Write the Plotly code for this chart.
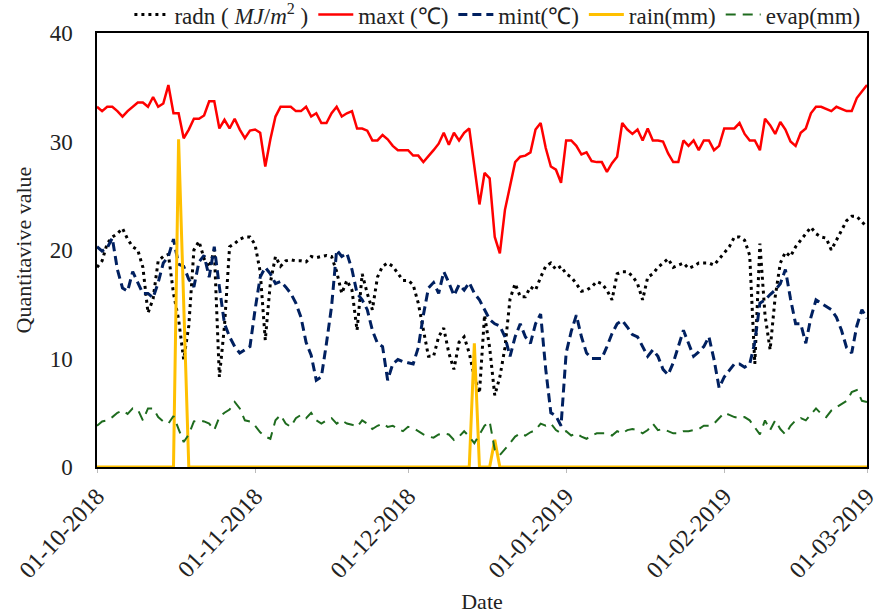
import pandas as pd
import plotly.graph_objects as go

dates = pd.date_range("2018-10-01", periods=152, freq="D")

radn = [18.4, 19.0, 20.6, 21.2, 21.5, 22.0, 21.0, 20.3, 20.0, 18.4,
        14.2, 15.5, 19.0, 19.4, 19.6, 16.0, 13.6, 9.9, 13.0, 20.0,
        20.8, 19.2, 18.4, 20.0, 8.3, 13.0, 20.3, 20.6, 21.0, 21.2,
        21.2, 20.5, 18.0, 11.7, 17.0, 19.4, 18.5, 19.0, 19.1, 19.0,
        19.0, 18.9, 19.4, 19.3, 19.4, 19.5, 19.4, 18.0, 16.0, 17.2,
        16.3, 12.6, 17.8, 16.0, 14.5, 17.5, 18.5, 18.8, 18.5, 17.8,
        17.2, 17.2, 16.8, 15.1, 12.5, 10.2, 10.2, 12.0, 12.8, 10.5,
        9.0, 11.5, 12.0, 10.5, 8.3, 6.8, 14.0, 11.0, 6.6, 8.3,
        11.0, 15.5, 16.9, 15.7, 15.7, 16.6, 16.3, 17.5, 18.5, 18.8,
        18.2, 18.5, 17.8, 17.5, 16.9, 16.2, 16.3, 16.6, 17.1, 16.9,
        16.3, 15.4, 17.8, 18.0, 18.0, 17.6, 16.9, 15.4, 17.5, 17.8,
        18.4, 18.8, 19.2, 18.4, 18.6, 18.8, 18.3, 18.5, 18.8, 18.8,
        18.8, 18.6, 19.2, 19.8, 20.3, 21.2, 21.2, 20.9, 19.5, 9.5,
        20.6, 14.0, 10.8, 15.7, 18.8, 19.8, 19.4, 20.3, 20.9, 21.5,
        22.1, 21.5, 21.2, 21.1, 20.0, 20.9, 21.8, 22.7, 23.1, 23.1,
        22.6, 22.1]

maxt = [33.2, 32.8, 33.2, 33.2, 32.8, 32.3, 32.8, 33.2, 33.6, 33.6,
        33.2, 34.1, 33.2, 33.5, 35.2, 32.6, 32.6, 30.3, 31.1, 32.1,
        32.1, 32.4, 33.7, 33.7, 31.2, 32.0, 31.2, 32.1, 31.1, 30.3,
        31.0, 31.1, 30.8, 27.7, 30.2, 32.3, 33.2, 33.2, 33.2, 32.8,
        32.8, 33.2, 32.3, 32.6, 31.7, 31.7, 32.6, 33.2, 32.3, 32.6,
        32.8, 31.2, 31.2, 31.0, 30.1, 30.1, 30.6, 30.2, 29.6, 29.2,
        29.2, 29.2, 28.7, 28.7, 28.1, 28.6, 29.2, 29.8, 30.8, 29.7,
        30.8, 30.1, 30.8, 31.2, 27.7, 24.2, 27.1, 26.6, 21.2, 19.7,
        23.7, 26.0, 28.1, 28.6, 28.7, 29.0, 31.1, 31.7, 29.4, 27.7,
        27.4, 26.2, 30.1, 30.1, 29.6, 28.8, 29.0, 28.2, 28.1, 28.1,
        27.2, 28.0, 28.6, 31.7, 31.1, 30.7, 31.1, 30.1, 31.2, 30.1,
        30.1, 30.0, 28.9, 28.1, 28.1, 30.1, 29.6, 30.1, 29.2, 30.1,
        30.1, 29.2, 29.6, 31.2, 31.2, 31.2, 31.7, 30.7, 30.1, 30.1,
        29.2, 32.1, 31.5, 30.7, 31.8, 31.1, 30.0, 29.6, 30.8, 31.2,
        32.6, 33.2, 33.2, 33.0, 32.8, 33.2, 33.0, 32.8, 32.8, 34.0,
        34.6, 35.2]

mint = [20.3, 19.9, 20.2, 21.1, 18.2, 16.5, 16.2, 18.0, 17.0, 16.0,
        16.0, 15.6, 17.0, 18.8, 19.4, 21.0, 18.7, 18.5, 17.3, 16.6,
        18.9, 19.5, 17.5, 20.3, 16.6, 13.2, 12.0, 11.1, 10.5, 10.8,
        11.1, 14.5, 17.5, 18.4, 17.8, 16.9, 17.1, 16.6, 16.0, 15.1,
        13.8, 11.5, 10.3, 8.0, 8.3, 11.4, 14.8, 20.0, 19.4, 19.7,
        18.2, 16.0, 15.4, 14.5, 12.6, 11.4, 11.1, 8.0, 9.5, 9.9,
        9.7, 9.6, 9.5, 11.0, 14.0, 16.5, 17.0, 16.0, 18.0, 17.0,
        15.8, 16.8, 16.3, 17.0, 16.0, 15.4, 14.5, 13.6, 13.2, 13.0,
        12.0, 10.2, 12.0, 13.2, 12.0, 11.4, 13.2, 14.1, 9.0, 5.0,
        4.7, 3.8, 10.5, 12.5, 14.0, 12.0, 10.5, 10.0, 10.0, 10.0,
        11.1, 12.3, 13.2, 13.5, 12.9, 12.2, 12.0, 11.1, 10.2, 10.8,
        10.2, 9.0, 8.5, 9.6, 11.1, 12.6, 11.4, 10.2, 10.6, 11.1,
        12.0, 9.9, 7.3, 8.3, 8.9, 9.5, 9.5, 9.2, 9.5, 11.5,
        15.1, 15.4, 15.9, 16.3, 16.9, 18.2, 15.5, 13.2, 13.2, 11.4,
        13.8, 15.4, 15.1, 14.8, 14.5, 13.8, 12.6, 11.0, 10.5, 13.0,
        14.5, 13.7]

rain = [0] * 152
rain_days = [16, 17, 74, 78]
rain_amounts = [30.2, 15.0, 11.4, 2.5]
for d, a in zip(rain_days, rain_amounts):
    rain[d] = a

evap = [3.8, 4.2, 4.3, 4.6, 5.0, 5.2, 4.9, 5.4, 5.3, 4.3,
        5.4, 5.4, 4.6, 4.2, 4.0, 4.7, 3.5, 2.3, 3.0, 4.2,
        4.3, 4.2, 4.0, 3.4, 4.6, 5.0, 5.3, 6.0, 5.4, 4.3,
        4.2, 3.8, 3.2, 2.8, 2.6, 4.3, 4.8, 4.0, 3.7, 4.5,
        4.8, 4.5, 5.0, 4.3, 4.0, 4.3, 4.5, 4.0, 4.3, 4.0,
        3.9, 3.7, 4.3, 4.0, 3.5, 3.8, 4.0, 3.7, 3.8, 3.5,
        3.3, 3.7, 3.6, 3.3, 3.0, 2.8, 2.7, 3.0, 3.1, 3.0,
        2.5, 2.8, 3.3, 2.8, 2.2, 3.0, 3.8, 4.2, 1.6, 1.1,
        1.6, 2.2, 2.8, 3.1, 2.9, 3.2, 3.4, 4.0, 3.8, 4.0,
        3.4, 3.1, 3.3, 2.9, 3.1, 2.8, 2.6, 2.9, 3.1, 3.1,
        3.1, 2.9, 3.3, 3.1, 3.4, 3.5, 3.4, 3.1, 3.4, 4.0,
        3.4, 3.5, 3.3, 3.1, 3.1, 3.3, 3.3, 3.4, 3.5, 3.8,
        3.8, 4.0, 4.5, 5.0, 4.8, 4.6, 4.5, 4.6, 4.3, 3.7,
        3.0, 4.3, 3.4, 4.3, 3.5, 3.0, 3.8, 4.3, 4.5, 4.3,
        4.9, 5.4, 4.9, 4.6, 5.2, 5.5, 5.8, 6.1, 6.9, 7.1,
        6.1, 6.0]

tick_dates = ["2018-10-01", "2018-11-01", "2018-12-01", "2019-01-01", "2019-02-01", "2019-03-01"]
tick_labels = ["01-10-2018", "01-11-2018", "01-12-2018", "01-01-2019", "01-02-2019", "01-03-2019"]

FONT = "Liberation Serif"

fig = go.Figure()
fig.add_trace(go.Scatter(x=dates, y=radn, mode="lines",
                         name="radn ( <i>MJ</i>/<i>m</i><sup>2</sup> )",
                         line=dict(color="#000000", width=3, dash="3px,4px")))
fig.add_trace(go.Scatter(x=dates, y=maxt, mode="lines", name="maxt (℃)",
                         line=dict(color="#FF0000", width=2.5)))
fig.add_trace(go.Scatter(x=dates, y=mint, mode="lines", name="mint(℃)",
                         line=dict(color="#002060", width=3, dash="9px,5px")))
fig.add_trace(go.Scatter(x=dates, y=rain, mode="lines", name="rain(mm)",
                         line=dict(color="#FFC000", width=3)))
fig.add_trace(go.Scatter(x=dates, y=evap, mode="lines", name="evap(mm)",
                         line=dict(color="#1E6B1E", width=2, dash="10px,7px")))

fig.update_layout(
    width=886, height=614,
    margin=dict(l=97, r=19, t=33, b=147, autoexpand=False),
    paper_bgcolor="white", plot_bgcolor="white",
    font=dict(family=FONT, color="#222222", size=18),
    showlegend=True,
    legend=dict(orientation="h", x=0.52, xanchor="center", y=1.092, yanchor="top",
                font=dict(size=23, family=FONT), itemwidth=35,
                bgcolor="rgba(0,0,0,0)", tracegroupgap=0),
    xaxis=dict(type="date", range=["2018-10-01", "2019-03-01"], automargin=False,
               tickvals=tick_dates, ticktext=tick_labels, tickangle=-47,
               showgrid=False, zeroline=False, showline=True, linecolor="black",
               linewidth=1.5, mirror=True, ticks="outside", ticklen=4,
               tickcolor="#BBBBBB", tickfont=dict(size=24, family=FONT),
               title=dict(text="Date", font=dict(size=22, family=FONT), standoff=14)),
    yaxis=dict(range=[0, 40], tickvals=[0, 10, 20, 30, 40], showgrid=False,
               automargin=False,
               zeroline=False, showline=True, linecolor="black", linewidth=1.5,
               mirror=True, ticks="", ticklabelstandoff=18,
               tickfont=dict(size=23, family=FONT),
               title=dict(text="Quantitavive value", font=dict(size=22, family=FONT),
                          standoff=12)),
)

fig.write_html("out.html")
